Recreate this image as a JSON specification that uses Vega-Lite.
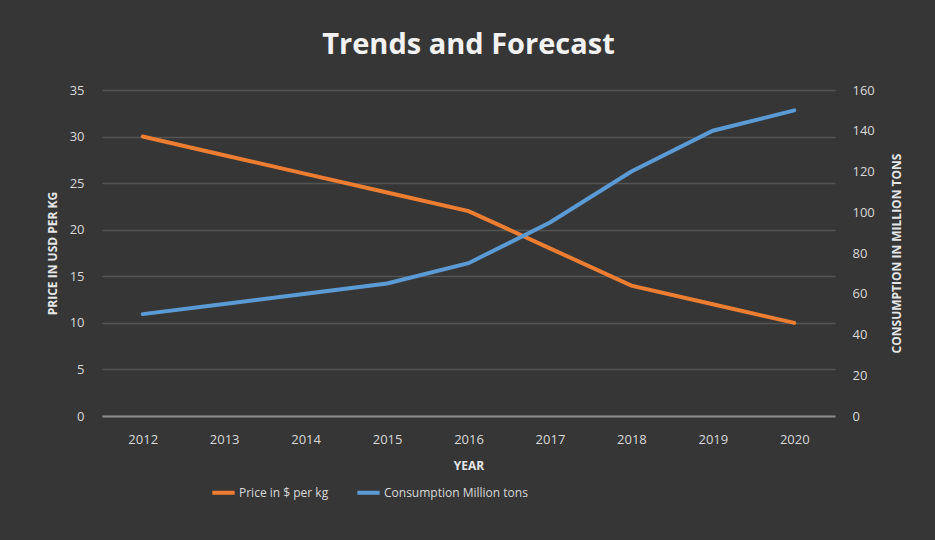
{
  "$schema": "https://vega.github.io/schema/vega-lite/v6.json",
  "autosize": {"type": "none"},
  "width": 733,
  "height": 326,
  "padding": {"left": 102, "top": 90, "right": 100, "bottom": 124},
  "background": "#363636",
  "title": {
    "text": "Trends and Forecast",
    "font": "Open Sans",
    "fontSize": 29,
    "fontWeight": "bold",
    "color": "#f2f2f2",
    "anchor": "middle",
    "offset": 24
  },
  "data": {
    "values": [
      {"year": "2012", "price": 30, "consumption": 50},
      {"year": "2013", "price": 28, "consumption": 55},
      {"year": "2014", "price": 26, "consumption": 60},
      {"year": "2015", "price": 24, "consumption": 65},
      {"year": "2016", "price": 22, "consumption": 75},
      {"year": "2017", "price": 18, "consumption": 95},
      {"year": "2018", "price": 14, "consumption": 120},
      {"year": "2019", "price": 12, "consumption": 140},
      {"year": "2020", "price": 10, "consumption": 150}
    ]
  },
  "encoding": {
    "x": {
      "field": "year",
      "type": "ordinal",
      "scale": {"type": "point", "padding": 0.5},
      "axis": {
        "title": "YEAR",
        "labelAngle": 0,
        "labelPadding": 17,
        "titlePadding": 14,
        "ticks": false,
        "grid": false,
        "domainColor": "#8c8c8c",
        "domainWidth": 2
      }
    }
  },
  "layer": [
    {
      "mark": {"type": "line", "strokeWidth": 4, "strokeCap": "round"},
      "encoding": {
        "y": {
          "field": "price",
          "type": "quantitative",
          "scale": {"domain": [0, 35]},
          "axis": {
            "title": "PRICE IN USD PER KG",
            "orient": "left",
            "values": [0, 5, 10, 15, 20, 25, 30, 35],
            "labelPadding": 18,
            "titlePadding": 10,
            "ticks": false,
            "domain": false,
            "grid": true
          }
        },
        "color": {"datum": "Price in $ per kg"}
      }
    },
    {
      "mark": {"type": "line", "strokeWidth": 4, "strokeCap": "round"},
      "encoding": {
        "y": {
          "field": "consumption",
          "type": "quantitative",
          "scale": {"domain": [0, 160]},
          "axis": {
            "title": "CONSUMPTION IN MILLION TONS",
            "orient": "right",
            "titleAngle": 270,
            "values": [0, 20, 40, 60, 80, 100, 120, 140, 160],
            "labelPadding": 17,
            "titlePadding": 29,
            "ticks": false,
            "domain": false,
            "grid": false
          }
        },
        "color": {"datum": "Consumption Million tons"}
      }
    }
  ],
  "resolve": {"scale": {"y": "independent"}},
  "config": {
    "view": {"stroke": null},
    "range": {"category": ["#ED7D31", "#5B9BD5"]},
    "axis": {
      "labelFont": "Open Sans",
      "labelFontSize": 13,
      "labelColor": "#d9d9d9",
      "titleFont": "Open Sans",
      "titleFontSize": 12,
      "titleFontWeight": "bold",
      "titleColor": "#e6e6e6",
      "gridColor": "#545454",
      "gridWidth": 1.5
    },
    "legend": {
      "orient": "none",
      "direction": "horizontal",
      "legendX": 108,
      "legendY": 389,
      "title": null,
      "symbolType": "stroke",
      "symbolStrokeWidth": 4,
      "symbolSize": 500,
      "labelFont": "Open Sans",
      "labelFontSize": 12,
      "labelColor": "#d9d9d9",
      "columnPadding": 20,
      "labelOffset": 2
    }
  }
}
